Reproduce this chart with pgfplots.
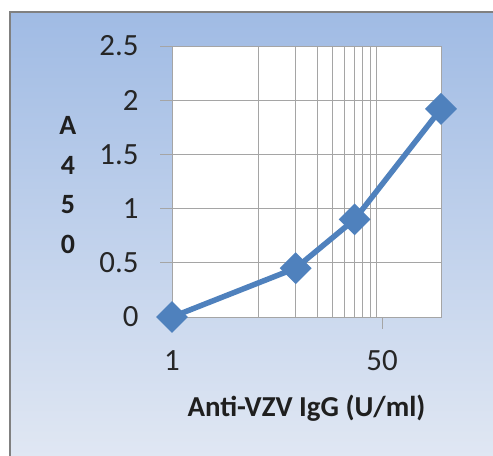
\documentclass[border=0pt]{standalone}
\usepackage{fontspec}
\setmainfont{Carlito}
\usepackage{pgfplots}
\pgfplotsset{compat=1.18}
\definecolor{xlblue}{RGB}{79,129,189}
\definecolor{bgtop}{RGB}{160,187,228}
\definecolor{bgbot}{RGB}{224,231,243}
\definecolor{gridgray}{RGB}{165,165,165}
\begin{document}
\begin{tikzpicture}[x=1bp,y=1bp]
\useasboundingbox (0,0) rectangle (493,456);
\fill[white] (0,0) rectangle (493,456);
\shade[top color=bgtop, bottom color=bgbot] (10,0) rectangle (493,444);
\draw[gray, line width=1.5bp] (10,0) -- (10,444) -- (493,444);
\begin{axis}[
    at={(172bp,139bp)}, anchor=south west,
    scale only axis,
    width=269bp, height=271bp,
    xmode=log,
    xmin=1, xmax=150,
    ymin=0, ymax=2.5,
    xtick={1,50}, xticklabels={1,50},
    minor xtick={5,10,15,20,25,30,35,40,45},
    ytick={0,0.5,1,1.5,2,2.5},
    yticklabels={0,0.5,1,1.5,2,2.5},
    xminorgrids, ymajorgrids,
    xtick pos=bottom, ytick pos=left,
    tick align=outside,
    major tick length=12bp, minor tick length=0pt,
    axis line style={gridgray, line width=0.8bp},
    major grid style={gridgray, line width=0.8bp},
    minor grid style={gridgray, line width=0.8bp},
    tick style={gridgray, line width=0.8bp},
    axis background/.style={fill=white},
    ticklabel style={font=\fontsize{31}{31}\selectfont, text=black!85},
    xticklabel style={anchor=base, yshift=-42bp},
    yticklabel style={anchor=east, xshift=-18bp},
    xlabel={Anti-VZV IgG (U/ml)},
    xlabel style={at={(axis description cs:0.5,0)}, anchor=base, yshift=-100bp,
        font=\fontsize{29}{29}\selectfont\bfseries, text=black!88},
    ylabel={A\\4\\5\\0},
    ylabel style={rotate=-90, at={(axis description cs:-0.387,0.487)}, anchor=center,
        align=center, font=\fontsize{28}{40}\selectfont\bfseries, text=black!88},
    clip=false,
]
\addplot[xlblue, line width=5.5bp, mark=square*, mark size=8.5bp,
    mark options={rotate=45, solid}] coordinates {
    (1,0) (10,0.45) (30,0.9) (150,1.92)
};
\end{axis}
\end{tikzpicture}
\end{document}
